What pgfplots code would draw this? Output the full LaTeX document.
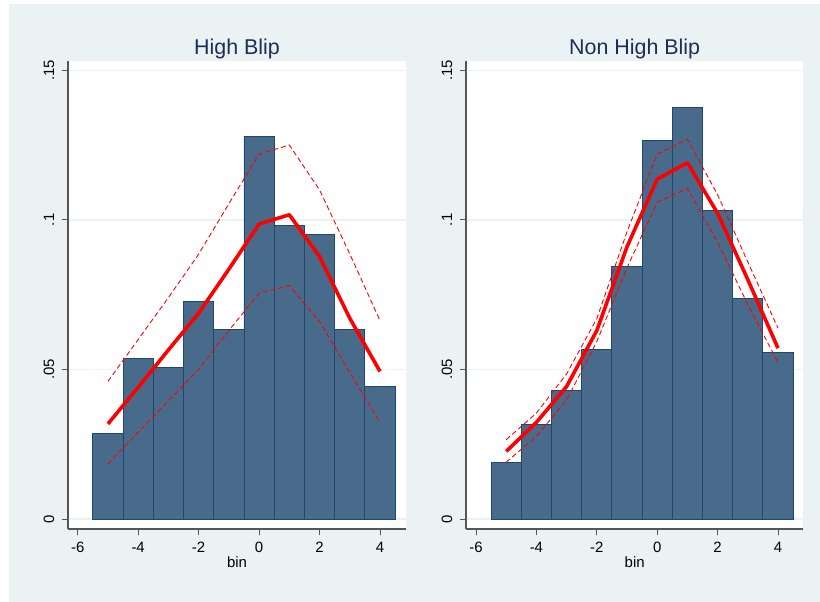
\documentclass[border=0pt]{standalone}
\usepackage{pgfplots}
\pgfplotsset{compat=1.18}
\usepackage{fontspec}
\setmainfont{Liberation Sans}
\definecolor{bgblue}{RGB}{234,242,243}
\definecolor{barfill}{RGB}{72,106,139}
\definecolor{baredge}{RGB}{30,70,110}
\definecolor{titlecol}{RGB}{30,45,83}
\definecolor{axcol}{RGB}{85,85,85}

\pgfplotsset{
  stata/.style={
    anchor=south west, scale only axis,
    height=468bp,
    axis lines*=left,
    axis line style={axcol, line width=1.1bp},
    axis background/.style={fill=white},
    ymin=-0.00334, ymax=0.1531,
    ytick={0,0.05,0.1,0.15}, yticklabels={0,.05,.1,.15},
    xtick={-6,-4,-2,0,2,4}, xticklabels={-6,-4,-2,0,2,4},
    ymajorgrids, grid style={bgblue, line width=1.5bp},
    tick align=outside, major tick length=6bp,
    tick style={axcol, line width=1bp},
    tick label style={font=\fontsize{15}{17}\selectfont, black},
    yticklabel style={rotate=90, anchor=base, inner sep=0pt, yshift=8bp},
    xticklabel style={anchor=base, inner sep=0pt},
    xticklabel shift=18bp,
    title style={font=\fontsize{21.5}{24}\selectfont, color=titlecol,
      at={(axis description cs:0.5,1)}, anchor=south, yshift=-4bp, inner sep=0pt},
    xlabel=bin,
    xlabel style={font=\fontsize{15}{17}\selectfont,
      at={(axis description cs:0.5,0)}, anchor=base, yshift=-39bp, inner sep=0pt},
    bars/.style={ybar interval, fill=barfill, draw=baredge, line width=0.9bp},
    fit/.style={red, line width=3.6bp, line join=round},
    ci/.style={red, line width=0.9bp, dash pattern=on 5bp off 3bp},
  }
}

\begin{document}
\begin{tikzpicture}[x=1bp,y=1bp]
\fill[white] (0,0) rectangle (820,602);
\fill[bgblue] (9,0) rectangle (820,598);

% ---------- left panel ----------
\begin{axis}[stata, at={(68bp,73bp)}, width=338bp,
  xmin=-6.321, xmax=4.86, title={High Blip}]
\addplot[bars] coordinates {
(-5.5,0.0285) (-4.5,0.0538) (-3.5,0.0506) (-2.5,0.0728) (-1.5,0.0632)
(-0.5,0.1280) (0.5,0.0981) (1.5,0.0950) (2.5,0.0632) (3.5,0.0443) (4.5,0.0443)};
\addplot[ci] coordinates {
(-5,0.0460) (-4,0.0600) (-3,0.0740) (-2,0.0885) (-1,0.1054)
(0,0.1220) (1,0.1250) (2,0.1100) (3,0.0886) (4,0.0663)};
\addplot[ci] coordinates {
(-5,0.0184) (-4,0.0290) (-3,0.0395) (-2,0.0500) (-1,0.0630)
(0,0.0755) (1,0.0780) (2,0.0660) (3,0.0490) (4,0.0323)};
\addplot[fit] coordinates {
(-5,0.0318) (-4,0.0440) (-3,0.0565) (-2,0.0688) (-1,0.0835)
(0,0.0986) (1,0.1017) (2,0.0877) (3,0.0671) (4,0.0493)};
\end{axis}

% ---------- right panel ----------
\begin{axis}[stata, at={(466bp,73bp)}, width=337.3bp,
  xmin=-6.331, xmax=4.838, title={Non High Blip}]
\addplot[bars] coordinates {
(-5.5,0.0190) (-4.5,0.0315) (-3.5,0.0430) (-2.5,0.0566) (-1.5,0.0844)
(-0.5,0.1264) (0.5,0.1375) (1.5,0.1031) (2.5,0.0738) (3.5,0.0557) (4.5,0.0557)};
\addplot[ci] coordinates {
(-5,0.0265) (-4,0.0354) (-3,0.0485) (-2,0.0670) (-1,0.0960)
(0,0.1220) (1,0.1269) (2,0.1084) (3,0.0859) (4,0.0638)};
\addplot[ci] coordinates {
(-5,0.0190) (-4,0.0276) (-3,0.0398) (-2,0.0593) (-1,0.0840)
(0,0.1059) (1,0.1105) (2,0.0925) (3,0.0717) (4,0.0523)};
\addplot[fit] coordinates {
(-5,0.0226) (-4,0.0323) (-3,0.0443) (-2,0.0630) (-1,0.0910)
(0,0.1136) (1,0.1191) (2,0.1022) (3,0.0800) (4,0.0571)};
\end{axis}
\end{tikzpicture}
\end{document}
